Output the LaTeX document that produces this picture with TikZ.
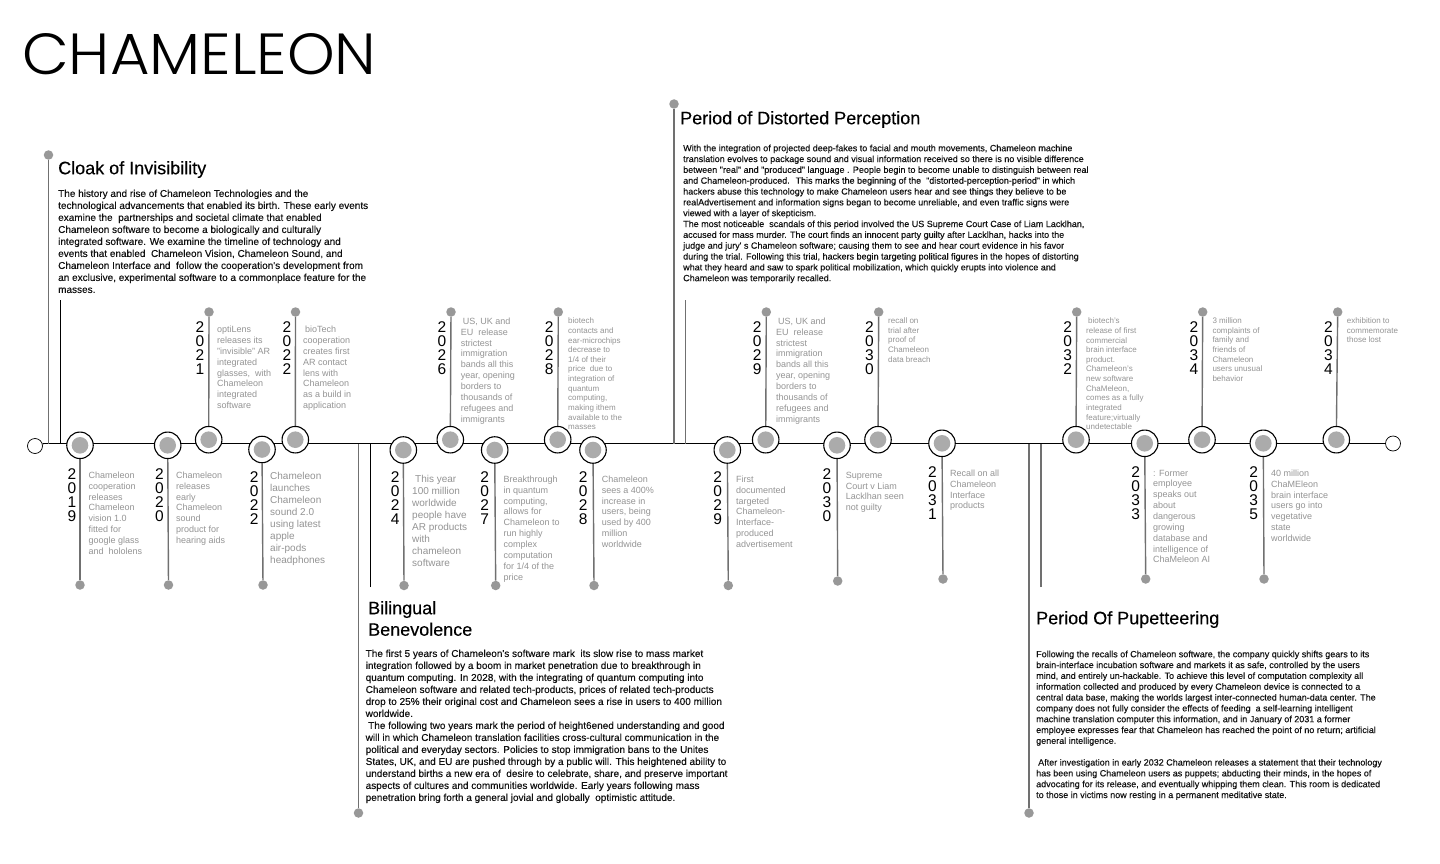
\documentclass[tikz,border=0pt]{standalone}
\usepackage{fontspec}
\usetikzlibrary{backgrounds}
\setmainfont{Liberation Sans}
\newfontfamily\blkfont{Liberation Sans}[FakeBold=0.15]
\newfontfamily\headfont{Liberation Sans}[FakeBold=0.2]
\newfontfamily\titlefont{Poppins Light}[FakeStretch=1.045]
\definecolor{descgray}{HTML}{949494}
\definecolor{dotgray}{HTML}{989898}
\definecolor{diskgray}{HTML}{ABABAB}
\definecolor{stemgray}{HTML}{707070}
\definecolor{bodyblack}{HTML}{111111}
\tikzset{
  x=1pt,y=-1pt,
  ring/.style={circle,draw=black,line width=1.1pt,fill=white,minimum size=26.5pt,inner sep=0pt,
    path picture={\fill[diskgray] (path picture bounding box.center) circle (8.3pt);}},
  tipdot/.style={circle,fill=dotgray,minimum size=9.5pt,inner sep=0pt},
  endcap/.style={circle,draw=black,line width=0.7pt,fill=white,minimum size=15pt,inner sep=0pt},
  stem/.style={draw=stemgray,line width=1.4pt},
  axisline/.style={draw=black,line width=1.1pt},
  blackbar/.style={draw=black,line width=1pt},
  greybar/.style={draw=stemgray,line width=1.3pt},
  txt/.style={anchor=north west,inner sep=0pt,align=left},
  desc/.style={txt,text=descgray},
  dA/.style={desc,font=\fontsize{8}{9.65}\selectfont,yshift=2.6pt},
  dB/.style={desc,font=\fontsize{9}{10.85}\selectfont,yshift=3pt},
  dC/.style={desc,font=\fontsize{10}{12}\selectfont,yshift=3.5pt},
  bodyA/.style={txt,text=bodyblack,font=\blkfont\fontsize{9}{10.83}\selectfont,yshift=3.2pt},
  bodyB/.style={txt,text=bodyblack,font=\blkfont\fontsize{10}{12}\selectfont,yshift=3.5pt},
  head/.style={txt,text=black,font=\headfont\fontsize{18}{21.5}\selectfont,yshift=7pt},
  yeartxt/.style={anchor=north,inner sep=0pt,align=center,text=black,font=\fontsize{15.5}{14}\selectfont,yshift=4pt},
}
\newcommand{\evt}[5]{% name, ring x, ring y, tip x, tip y
  \node[ring] (n#1) at (#2,#3) {};
  \node[tipdot] (t#1) at (#4,#5) {};
  \begin{scope}[on background layer]\draw[stem] (t#1) -- (n#1);\end{scope}
}
\newcommand{\yrs}[7]{% name, x, y, digits
  \node[yeartxt] (y#1) at (#2,#3) {#4\\#5\\#6\\#7};
}
\begin{document}
\begin{tikzpicture}
\useasboundingbox (0,0) rectangle (1440,864);
\begin{scope}[on background layer]
\fill[white] (0,0) rectangle (1440,864);
\end{scope}

\node[anchor=west,inner sep=0pt,text=black,font=\titlefont\fontsize{58}{58}\selectfont] (title) at (22,54) {CHAMELEON};

\node[endcap] (startc) at (35,446) {};
\node[endcap] (endc) at (1393,443.5) {};
\coordinate (axisL) at (44,443.5);
\begin{scope}[on background layer]
\draw[axisline] (axisL) -- (endc);
\draw[axisline] (axisL) -- (startc);
\end{scope}

\coordinate (a1) at (48.5,443.5); \coordinate (b1) at (60.5,443.5); \coordinate (b1t) at (60.5,300);
\coordinate (a2) at (358.5,443.5); \coordinate (b2) at (370.5,443.5); \coordinate (b2t) at (370.5,587);
\coordinate (a3) at (674,443.5); \coordinate (b3) at (685.5,443.5); \coordinate (b3t) at (685.5,300);
\coordinate (a4) at (1029,443.5); \coordinate (b4) at (1041,443.5); \coordinate (b4t) at (1041,587);
\node[tipdot] (p1) at (48.5,155) {};
\node[tipdot] (p2) at (358.5,813) {};
\node[tipdot] (p3) at (674,104) {};
\node[tipdot] (p4) at (1029,813) {};
\draw[greybar] (p1) -- (a1);
\draw[blackbar] (b1t) -- (b1);
\draw[greybar] (p2) -- (a2);
\draw[blackbar] (b2t) -- (b2);
\draw[greybar] (p3) -- (a3);
\draw[greybar] (b3t) -- (b3);
\draw[greybar] (p4) -- (a4);
\draw[greybar] (b4t) -- (b4);

\evt{A}{80}{445.3}{80}{585}
\evt{B}{167.7}{445.3}{168.5}{585}
\evt{C}{208.7}{439.7}{209}{312}
\evt{D}{262}{449.5}{263}{585}
\evt{E}{295.3}{439.7}{295.5}{312}
\evt{F}{403.3}{450}{404}{585.5}
\evt{G}{450.3}{439.7}{451}{312}
\evt{H}{494.7}{450}{495.7}{585.5}
\evt{I}{557.7}{439.7}{558.3}{312}
\evt{J}{593}{450}{594}{585.5}
\evt{K}{727.3}{450}{728.3}{585.5}
\evt{L}{765.7}{439.7}{766.3}{312}
\evt{M}{837}{445.3}{837.7}{581}
\evt{N}{878}{439.7}{878.7}{312}
\evt{O}{942}{443.3}{943}{579}
\evt{P}{1076}{439.7}{1076.7}{312}
\evt{Q}{1144.7}{443.3}{1145.7}{579}
\evt{R}{1202}{439.7}{1202.7}{312}
\evt{S}{1263.3}{443.3}{1264}{579}
\evt{T}{1336.3}{439.7}{1337.7}{312}

\yrs{A}{72}{472}{2}{0}{1}{9}
\yrs{B}{159.5}{472}{2}{0}{2}{0}
\yrs{C}{200}{325.7}{2}{0}{2}{1}
\yrs{D}{254.3}{475.7}{2}{0}{2}{2}
\yrs{E}{287}{325.7}{2}{0}{2}{2}
\yrs{F}{395.3}{475.7}{2}{0}{2}{4}
\yrs{G}{442}{325.7}{2}{0}{2}{6}
\yrs{H}{484.7}{475.7}{2}{0}{2}{7}
\yrs{I}{549.3}{325.7}{2}{0}{2}{8}
\yrs{J}{583.3}{475.7}{2}{0}{2}{8}
\yrs{K}{717.7}{475.7}{2}{0}{2}{9}
\yrs{L}{757.3}{325.7}{2}{0}{2}{9}
\yrs{M}{827}{472}{2}{0}{3}{0}
\yrs{N}{869.3}{325.7}{2}{0}{3}{0}
\yrs{O}{932.3}{470.7}{2}{0}{3}{1}
\yrs{P}{1067.7}{325.7}{2}{0}{3}{2}
\yrs{Q}{1135.7}{470.7}{2}{0}{3}{3}
\yrs{R}{1194}{325.7}{2}{0}{3}{4}
\yrs{S}{1253.7}{470.7}{2}{0}{3}{5}
\yrs{T}{1328.3}{325.7}{2}{0}{3}{4}

\node[dB] (dA) at (88.5,474.7) {Chameleon\\cooperation\\releases\\Chameleon\\vision 1.0\\fitted for\\google glass\\and~ hololens};
\node[dB] (dB) at (176,474.7) {Chameleon\\releases\\early\\Chameleon\\sound\\product for\\hearing aids};
\node[dB] (dC) at (217,329) {optiLens\\releases its\\"invisible" AR\\integrated\\glasses,~ with\\Chameleon\\integrated\\software};
\node[dC] (dD) at (270,475.3) {Chameleon\\launches\\Chameleon\\sound 2.0\\using latest\\apple\\air-pods\\headphones};
\node[dB] (dE) at (303,329) {\hspace*{2pt}bioTech\\cooperation\\creates first\\AR contact\\lens with\\Chameleon\\as a build in\\application};
\node[dC] (dF) at (412,479) {\hspace*{3pt}This year\\100 million\\worldwide\\people have\\AR products\\with\\chameleon\\software};
\node[dB] (dG) at (460.7,320.7) {\hspace*{2pt}US, UK and\\EU~ release\\strictest\\immigration\\bands all this\\year, opening\\borders to\\thousands of\\refugees and\\immigrants};
\node[dB] (dH) at (503.3,478.7) {Breakthrough\\in quantum\\computing,\\allows for\\Chameleon to\\run highly\\complex\\computation\\for 1/4 of the\\price};
\node[dA] (dI) at (568,320.3) {biotech\\contacts and\\ear-microchips\\decrease to\\1/4 of their\\price~ due to\\integration of\\quantum\\computing,\\making ithem\\available to the\\masses};
\node[dB] (dJ) at (601.7,478.7) {Chameleon\\sees a 400\%\\increase in\\users, being\\used by 400\\million\\worldwide};
\node[dB] (dK) at (736,478.7) {First\\documented\\targeted\\Chameleon-\\Interface-\\produced\\advertisement};
\node[dB] (dL) at (776,320.7) {\hspace*{2pt}US, UK and\\EU~ release\\strictest\\immigration\\bands all this\\year, opening\\borders to\\thousands of\\refugees and\\immigrants};
\node[dB] (dM) at (845.7,474.7) {Supreme\\Court v Liam\\Lacklhan seen\\not guilty};
\node[dA] (dN) at (888,320.3) {recall on\\trial after\\proof of\\Chameleon\\data breach};
\node[dB] (dO) at (950,472.7) {Recall on all\\Chameleon\\Interface\\products};
\node[dA] (dP) at (1086,320.3) {\hspace*{2pt}biotech's\\release of first\\commercial\\brain interface\\product.\\Chameleon's\\new software\\ChaMeleon,\\comes as a fully\\integrated\\feature;virtually\\undetectable};
\node[dB] (dQ) at (1153,472.7) {: Former\\employee\\speaks out\\about\\dangerous\\growing\\database and\\intelligence of\\ChaMeleon AI};
\node[dA] (dR) at (1212.3,320.3) {3 million\\complaints of\\family and\\friends of\\Chameleon\\users unusual\\behavior};
\node[dB] (dS) at (1271,472.7) {40 million\\ChaMEleon\\brain interface\\users go into\\vegetative\\state\\worldwide};
\node[dA] (dT) at (1346.7,320.3) {exhibition to\\commemorate\\those lost};

\node[head] (h1) at (58,168) {Cloak of Invisibility};
\node[bodyB] (b1txt) at (58,193) {The history and rise of Chameleon Technologies and the\\technological advancements that enabled its birth. These early events\\examine the~ partnerships and societal climate that enabled\\Chameleon software to become a biologically and culturally\\integrated software. We examine the timeline of technology and\\events that enabled~ Chameleon Vision, Chameleon Sound, and\\Chameleon Interface and~ follow the cooperation's development from\\an exclusive, experimental software to a commonplace feature for the\\masses.};

\node[head] (h2) at (368,608) {Bilingual\\Benevolence};
\node[bodyB] (b2txt) at (365.5,653) {The first 5 years of Chameleon's software mark~ its slow rise to mass market\\integration followed by a boom in market penetration due to breakthrough in\\quantum computing. In 2028, with the integrating of quantum computing into\\Chameleon software and related tech-products, prices of related tech-products\\drop to 25\% their original cost and Chameleon sees a rise in users to 400 million\\worldwide.\\\hspace*{2.5pt}The following two years mark the period of height6ened understanding and good\\will in which Chameleon translation facilities cross-cultural communication in the\\political and everyday sectors. Policies to stop immigration bans to the Unites\\States, UK, and EU are pushed through by a public will. This heightened ability to\\understand births a new era of~ desire to celebrate, share, and preserve important\\aspects of cultures and communities worldwide. Early years following mass\\penetration bring forth a general jovial and globally~ optimistic attitude.};

\node[head] (h3) at (680,118) {Period of Distorted Perception};
\node[bodyA] (b3txt) at (683,147.7) {With the integration of projected deep-fakes to facial and mouth movements, Chameleon machine\\translation evolves to package sound and visual information received so there is no visible difference\\between "real" and "produced" language . People begin to become unable to distinguish between real\\and Chameleon-produced.~ This marks the beginning of the~ "distorted-perception-period" in which\\hackers abuse this technology to make Chameleon users hear and see things they believe to be\\realAdvertisement and information signs began to become unreliable, and even traffic signs were\\viewed with a layer of skepticism.\\The most noticeable~ scandals of this period involved the US Supreme Court Case of Liam Lacklhan,\\accused for mass murder. The court finds an innocent party guilty after Lacklhan, hacks into the\\judge and jury' s Chameleon software; causing them to see and hear court evidence in his favor\\during the trial. Following this trial, hackers begin targeting political figures in the hopes of distorting\\what they heard and saw to spark political mobilization, which quickly erupts into violence and\\Chameleon was temporarily recalled.};

\node[head] (h4) at (1036,618) {Period Of Pupetteering};
\node[bodyA] (b4txt) at (1036,653.7) {Following the recalls of Chameleon software, the company quickly shifts gears to its\\brain-interface incubation software and markets it as safe, controlled by the users\\mind, and entirely un-hackable. To achieve this level of computation complexity all\\information collected and produced by every Chameleon device is connected to a\\central data base, making the worlds largest inter-connected human-data center. The\\company does not fully consider the effects of feeding~ a self-learning intelligent\\machine translation computer this information, and in January of 2031 a former\\employee expresses fear that Chameleon has reached the point of no return; artificial\\general intelligence.\\[10.83pt]\hspace*{2pt}After investigation in early 2032 Chameleon releases a statement that their technology\\has been using Chameleon users as puppets; abducting their minds, in the hopes of\\advocating for its release, and eventually whipping them clean. This room is dedicated\\to those in victims now resting in a permanent meditative state.};
\end{tikzpicture}
\end{document}
